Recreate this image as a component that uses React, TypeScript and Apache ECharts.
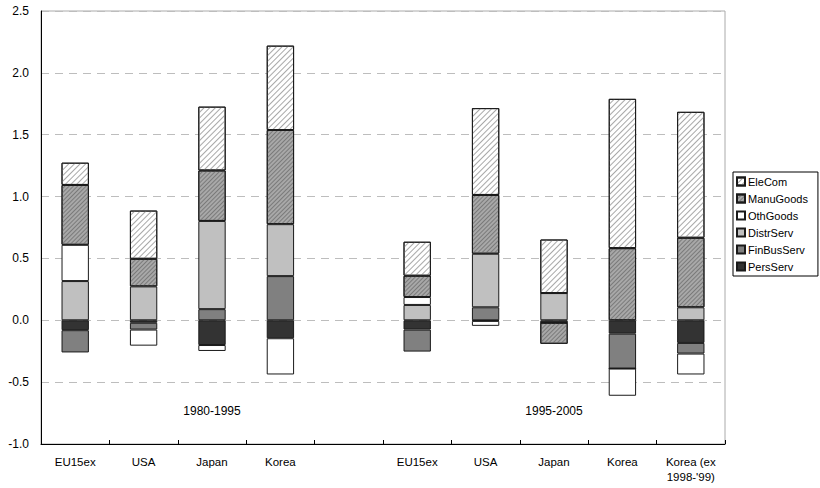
import React, { useEffect, useRef } from "react";
import * as echarts from "echarts";

// Contributions by sector, two periods side by side with a blank slot between them
const categories = [
  "EU15ex", "USA", "Japan", "Korea", "",
  "EU15ex", "USA", "Japan", "Korea", "Korea (ex\n1998-'99)",
];

const persServ = [-0.08, -0.02, -0.2, -0.145, null, -0.075, -0.005, -0.02, -0.108, -0.183];
const finBusServ = [-0.18, -0.055, 0.09, 0.357, null, -0.178, 0.105, 0, -0.282, -0.086];
const distrServ = [0.317, 0.274, 0.713, 0.42, null, 0.124, 0.433, 0.22, 0, 0.105];
const othGoods = [0.293, -0.13, -0.048, -0.293, null, 0.064, -0.04, 0, -0.22, -0.169];
const manuGoods = [0.484, 0.223, 0.408, 0.761, null, 0.172, 0.475, -0.17, 0.583, 0.562];
const eleCom = [0.18, 0.39, 0.516, 0.682, null, 0.275, 0.702, 0.433, 1.207, 1.018];

const periodLabels = ["1980-1995", "1995-2005"];
const periodLabelSlots = [2, 7];

const yTicks = { min: -1, max: 2.5, interval: 0.5 };

const FONT = "'Liberation Sans', Arial, sans-serif";

// "/" diagonal hatching
const hatch = (color: string, gap: number) => ({
  symbol: "rect",
  symbolSize: 1,
  color,
  dashArrayX: [1, 0],
  dashArrayY: [1, gap],
  rotation: -Math.PI / 4,
});

export default function App() {
  const ref = useRef<HTMLDivElement>(null);

  useEffect(() => {
    if (!ref.current) return;
    document.body.style.margin = "0";
    const chart = echarts.init(ref.current, undefined, { renderer: "svg" });

    const seriesDefs = [
      { name: "PersServ", data: persServ, color: "#333333" },
      { name: "FinBusServ", data: finBusServ, color: "#808080" },
      { name: "DistrServ", data: distrServ, color: "#c0c0c0" },
      { name: "OthGoods", data: othGoods, color: "#ffffff" },
      { name: "ManuGoods", data: manuGoods, color: "#a8a8a8", decal: hatch("#7a7a7a", 2) },
      { name: "EleCom", data: eleCom, color: "#ffffff", decal: hatch("#a8a8a8", 2.5) },
    ];

    const series: any[] = seriesDefs.map((s, i) => ({
      type: "bar",
      name: s.name,
      stack: "total",
      data: s.data,
      barWidth: "40%",
      itemStyle: {
        color: s.color,
        borderColor: "#1a1a1a",
        borderWidth: 1,
        ...(s.decal ? { decal: s.decal } : {}),
      },
      emphasis: { disabled: true },
      ...(i === 0
        ? {
            markPoint: {
              symbol: "rect",
              symbolSize: 0,
              silent: true,
              label: {
                show: true,
                position: "inside",
                color: "#000",
                fontFamily: FONT,
                fontSize: 12,
                formatter: (p: any) => p.name,
              },
              data: periodLabels.map((t, k) => ({
                name: t,
                coord: [periodLabelSlots[k], -0.735],
              })),
            },
          }
        : {}),
    }));

    chart.setOption({
      animation: false,
      aria: { enabled: false },
      grid: {
        left: 41,
        right: 95,
        top: 11,
        bottom: 44,
        show: true,
        borderColor: "#aaaaaa",
        borderWidth: 1,
        backgroundColor: "transparent",
      },
      legend: {
        orient: "vertical",
        left: 733,
        top: 172,
        data: ["EleCom", "ManuGoods", "OthGoods", "DistrServ", "FinBusServ", "PersServ"],
        itemWidth: 8,
        itemHeight: 8,
        itemGap: 6,
        padding: [4, 10, 4, 3],
        borderColor: "#000",
        borderWidth: 1,
        selectedMode: false,
        icon: "rect",
        textStyle: { fontFamily: FONT, fontSize: 11, color: "#000", padding: [0, 0, 0, -2] },
      },
      xAxis: {
        type: "category",
        data: categories,
        axisLine: { onZero: false, lineStyle: { color: "#000", width: 1 } },
        axisTick: { show: true, inside: true, length: 4, lineStyle: { color: "#000" } },
        axisLabel: {
          interval: 0,
          color: "#000",
          fontFamily: FONT,
          fontSize: 11.5,
          margin: 10,
          lineHeight: 15,
        },
        splitLine: { show: false },
      },
      yAxis: {
        type: "value",
        min: yTicks.min,
        max: yTicks.max,
        interval: yTicks.interval,
        axisLine: { show: true, lineStyle: { color: "#000", width: 1 } },
        axisTick: { show: false },
        axisLabel: {
          color: "#000",
          fontFamily: FONT,
          fontSize: 12,
          margin: 12,
          formatter: (v: number) => v.toFixed(1),
        },
        splitLine: {
          show: true,
          lineStyle: { color: "#bdbdbd", type: [8, 6], width: 1 },
        },
      },
      series,
    });

    return () => chart.dispose();
  }, []);

  return <div ref={ref} style={{ width: 820, height: 488 }} />;
}
